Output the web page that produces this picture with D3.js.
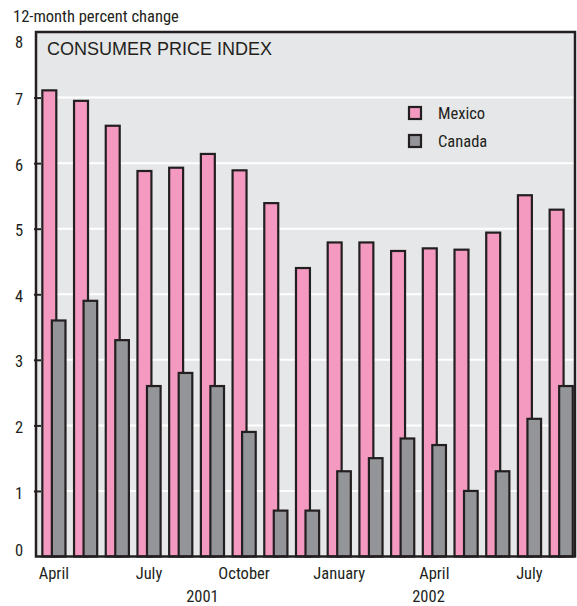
<!DOCTYPE html>
<html>
<head>
<meta charset="utf-8">
<script src="https://cdn.jsdelivr.net/npm/d3@7"></script>
<style>
  html, body { margin: 0; padding: 0; background: #ffffff; }
  svg { display: block; }
  .cond { font-family: "Liberation Sans Narrow", "Arial Narrow", "Roboto Condensed", sans-serif; fill: #231f20; }
  .reg { font-family: "Liberation Sans", Arial, Helvetica, sans-serif; fill: #231f20; }
</style>
</head>
<body>
<svg id="chart" width="577" height="606"></svg>
<script>
// Consumer price index, 12-month percent change, April 2001 - August 2002
const months = ["Apr01","May01","Jun01","Jul01","Aug01","Sep01","Oct01","Nov01","Dec01",
                "Jan02","Feb02","Mar02","Apr02","May02","Jun02","Jul02","Aug02"];
const mexico = [7.11, 6.95, 6.57, 5.88, 5.93, 6.14, 5.89, 5.39, 4.40,
                4.79, 4.79, 4.66, 4.70, 4.68, 4.94, 5.51, 5.29];
const canada = [3.6, 3.9, 3.3, 2.6, 2.8, 2.6, 1.9, 0.7, 0.7,
                1.3, 1.5, 1.8, 1.7, 1.0, 1.3, 2.1, 2.6];
const yTicks = [0, 1, 2, 3, 4, 5, 6, 7, 8];
const monthLabels = ["April", "July", "October", "January", "April", "July"];
const monthLabelIdx = [0, 3, 6, 9, 12, 15];
const yearLabels = ["2001", "2002"];
const yearLabelIdx = [4.75, 11.88];
const seriesNames = ["Mexico", "Canada"];
const colors = { Mexico: "#f49ac1", Canada: "#939598" };

const svg = d3.select("#chart");
const frame = { left: 36, right: 575, top: 32, bottom: 556.5 };

const x = d3.scaleBand().domain(d3.range(months.length))
  .range([frame.left, frame.right]).paddingInner(0).paddingOuter(0);
const y = d3.scaleLinear().domain([0, 8]).range([frame.bottom, frame.top]);
const bw = x.bandwidth();
// centre of a (possibly fractional) month slot
const slotCenter = i => frame.left + (i + 0.5) * bw;

// plot background
svg.append("rect")
  .attr("x", frame.left).attr("y", frame.top)
  .attr("width", frame.right - frame.left).attr("height", frame.bottom - frame.top)
  .attr("fill", "#e6e7e8");

// white gridlines
svg.append("g").selectAll("line")
  .data(yTicks.filter(t => t > 0 && t < 8))
  .join("line")
  .attr("x1", frame.left).attr("x2", frame.right)
  .attr("y1", d => y(d)).attr("y2", d => y(d))
  .attr("stroke", "#ffffff").attr("stroke-width", 2);

// y axis: tick marks and labels (end labels tucked inside the frame)
const yAxis = d3.axisLeft(y).tickValues(yTicks).tickSizeInner(-6).tickSizeOuter(0).tickPadding(16);
const gy = svg.append("g").attr("transform", `translate(${frame.left - 1},0)`).call(yAxis);
gy.select(".domain").remove();
gy.selectAll(".tick line").attr("stroke", "#231f20").attr("stroke-width", 2)
  .attr("x1", -1).attr("x2", 6);
gy.selectAll(".tick text").attr("class", "cond").attr("font-size", 16.5)
  .attr("x", -16).attr("text-anchor", "middle")
  .attr("y", d => d === 8 ? 9.5 : d === 0 ? -7 : 1.5)
  .attr("dy", "0.34em");
gy.selectAll(".tick").filter(d => d === 8 || d === 0).select("line").remove();

// Mexico bars
svg.append("g").selectAll("rect")
  .data(mexico)
  .join("rect")
  .attr("x", (d, i) => x(i) + bw * 0.2)
  .attr("width", bw * 0.44)
  .attr("y", d => y(d))
  .attr("height", d => y(0) - y(d))
  .attr("fill", colors.Mexico)
  .attr("stroke", "#231f20").attr("stroke-width", 2.2);

// Canada bars drawn over the Mexico bars
svg.append("g").selectAll("rect")
  .data(canada)
  .join("rect")
  .attr("x", (d, i) => x(i) + bw * 0.5)
  .attr("width", bw * 0.43)
  .attr("y", d => y(d))
  .attr("height", d => y(0) - y(d))
  .attr("fill", colors.Canada)
  .attr("stroke", "#231f20").attr("stroke-width", 2.2);

// frame
svg.append("rect")
  .attr("x", frame.left).attr("y", frame.top)
  .attr("width", frame.right - frame.left).attr("height", frame.bottom - frame.top)
  .attr("fill", "none").attr("stroke", "#231f20").attr("stroke-width", 2.5);

// month and year captions
svg.append("g").selectAll("text")
  .data(monthLabels)
  .join("text")
  .attr("class", "cond").attr("font-size", 16.5)
  .attr("x", (d, i) => slotCenter(monthLabelIdx[i]) + 2)
  .attr("y", 579)
  .attr("text-anchor", "middle")
  .text(d => d);

svg.append("g").selectAll("text")
  .data(yearLabels)
  .join("text")
  .attr("class", "cond").attr("font-size", 16.5)
  .attr("x", (d, i) => slotCenter(yearLabelIdx[i]))
  .attr("y", 602)
  .attr("text-anchor", "middle")
  .text(d => d);

// axis title and chart title
svg.append("text").attr("class", "cond").attr("font-size", 16.5)
  .attr("x", 13).attr("y", 22).text("12-month percent change");
svg.append("text").attr("class", "reg").attr("font-size", 18)
  .attr("x", 47).attr("y", 55).text("CONSUMER PRICE INDEX");

// legend
const legend = svg.append("g").selectAll("g")
  .data(seriesNames)
  .join("g")
  .attr("transform", (d, i) => `translate(409,${107 + i * 28})`);
legend.append("rect")
  .attr("width", 12).attr("height", 12)
  .attr("fill", d => colors[d])
  .attr("stroke", "#231f20").attr("stroke-width", 2.2);
legend.append("text")
  .attr("class", "cond").attr("font-size", 16.5)
  .attr("x", 29).attr("y", 6).attr("dy", "0.35em")
  .text(d => d);
</script>
</body>
</html>
